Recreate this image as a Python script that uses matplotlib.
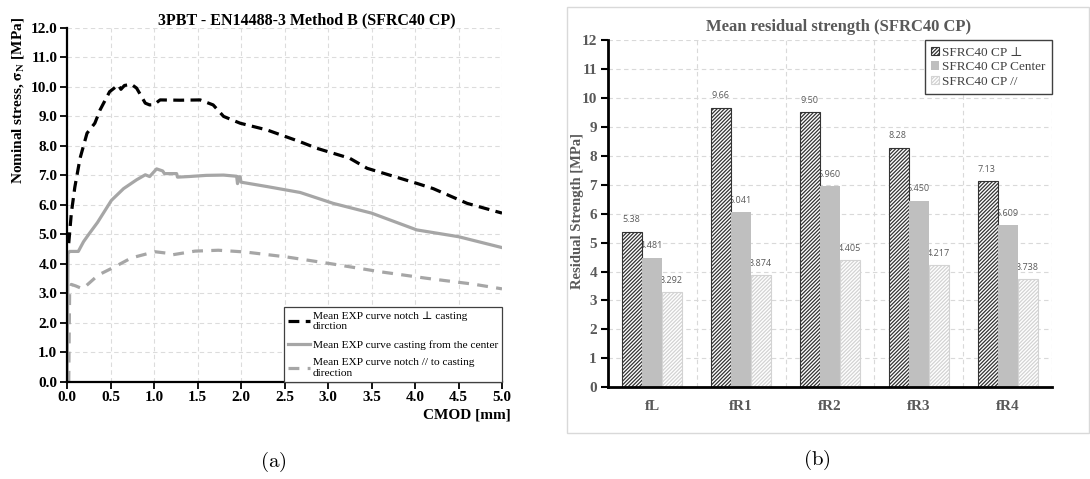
import matplotlib
matplotlib.use("Agg")
import matplotlib.pyplot as plt
import numpy as np
from matplotlib.patches import Rectangle

# ---- (a) 3PBT stress-CMOD curves ----
perp_cmod = [0.02, 0.05, 0.09, 0.15, 0.23, 0.32, 0.38, 0.49, 0.59, 0.62, 0.66, 0.74,
             0.80, 0.90, 0.95, 1.00, 1.07, 1.30, 1.53, 1.68, 1.80, 1.99, 2.30, 2.68,
             2.87, 3.25, 3.45, 4.02, 4.21, 4.60, 5.00]
perp_stress = [4.70, 5.72, 6.60, 7.58, 8.43, 8.77, 9.22, 9.84, 10.07, 9.92, 10.05, 10.09,
               9.96, 9.45, 9.39, 9.40, 9.56, 9.55, 9.56, 9.39, 9.00, 8.77, 8.54, 8.14,
               7.92, 7.58, 7.24, 6.73, 6.55, 6.05, 5.72]

center_cmod = [0.0, 0.012, 0.03, 0.13, 0.19, 0.25, 0.35, 0.51, 0.65, 0.80, 0.90, 0.95,
               1.03, 1.10, 1.12, 1.26, 1.27, 1.40, 1.60, 1.80, 1.95, 1.96, 1.97, 1.99,
               2.00, 2.30, 2.68, 3.06, 3.50, 4.02, 4.50, 5.00]
center_stress = [0.0, 4.35, 4.42, 4.42, 4.75, 5.00, 5.40, 6.15, 6.55, 6.85, 7.02, 6.96,
                 7.22, 7.15, 7.06, 7.06, 6.94, 6.96, 7.00, 7.01, 6.97, 6.72, 6.95, 6.95,
                 6.77, 6.62, 6.42, 6.05, 5.72, 5.15, 4.92, 4.55]

par_cmod = [0.02, 0.03, 0.05, 0.10, 0.18, 0.36, 0.55, 0.74, 1.01, 1.15, 1.20, 1.47,
            1.74, 2.05, 2.53, 3.06, 3.60, 4.13, 4.67, 5.00]
par_stress = [0.0, 3.00, 3.30, 3.25, 3.15, 3.62, 3.90, 4.20, 4.41, 4.36, 4.30, 4.43,
              4.46, 4.40, 4.23, 3.99, 3.73, 3.51, 3.31, 3.15]

curve_labels = ["Mean EXP curve notch \u22a5 casting\ndirction",
                "Mean EXP curve casting from the center",
                "Mean EXP curve notch // to casting\ndirection"]

# ---- (b) mean residual strengths ----
categories = ["fL", "fR1", "fR2", "fR3", "fR4"]
perp_vals = [5.38, 9.66, 9.50, 8.28, 7.13]
center_vals = [4.481, 6.041, 6.960, 6.450, 5.609]
par_vals = [3.292, 3.874, 4.405, 4.217, 3.738]
perp_text = ["5.38", "9.66", "9.50", "8.28", "7.13"]
center_text = ["4.481", "6.041", "6.960", "6.450", "5.609"]
par_text = ["3.292", "3.874", "4.405", "4.217", "3.738"]
series_names = ["SFRC40 CP \u22a5", "SFRC40 CP Center", "SFRC40 CP //"]

SERIF = ["Liberation Serif", "DejaVu Serif"]
plt.rcParams["font.family"] = SERIF
plt.rcParams["mathtext.fontset"] = "stix"
plt.rcParams["hatch.linewidth"] = 0.9

W, H = 1090, 479
fig = plt.figure(figsize=(W / 100, H / 100), dpi=100)


def fx(px):
    return px / W


def fy(py):
    return 1 - py / H


# ================= left panel =================
ax1 = fig.add_axes([fx(67), fy(381.7), fx(502) - fx(67), fy(28) - fy(381.7)])
ax1.plot(perp_cmod, perp_stress, color="black", lw=2.3,
         linestyle=(0, (3.4, 2.0)), label=curve_labels[0], zorder=3)
ax1.plot(center_cmod, center_stress, color="#a6a6a6", lw=2.3,
         label=curve_labels[1], zorder=3)
ax1.plot(par_cmod, par_stress, color="#a6a6a6", lw=2.3,
         linestyle=(0, (3.4, 2.6)), label=curve_labels[2], zorder=3)

ax1.set_xlim(0, 5)
ax1.set_ylim(0, 12)
ax1.set_xticks(np.arange(0, 5.01, 0.5))
ax1.set_yticks(np.arange(0, 12.01, 1))
ax1.set_xticklabels([f"{v:.1f}" for v in np.arange(0, 5.01, 0.5)])
ax1.set_yticklabels([f"{v:.1f}" for v in np.arange(0, 12.01, 1)])
for lab in ax1.get_xticklabels() + ax1.get_yticklabels():
    lab.set_fontweight("bold")
    lab.set_fontsize(11)
ax1.tick_params(direction="out", length=5, width=1.3, colors="black", pad=2)
ax1.grid(True, color="#dcdcdc", linestyle=(0, (4, 3)), lw=0.8, zorder=0)
ax1.set_axisbelow(True)
for s in ["top", "right"]:
    ax1.spines[s].set_visible(False)
for s in ["left", "bottom"]:
    ax1.spines[s].set_linewidth(1.6)
    ax1.spines[s].set_color("black")
    ax1.spines[s].set_zorder(4)

leg1 = ax1.legend(loc="lower right", borderaxespad=0, fancybox=False,
                  framealpha=1, edgecolor="#404040", fontsize=8.2,
                  handlelength=2.0, handletextpad=0.2, labelspacing=0.75,
                  borderpad=0.35)
leg1.get_frame().set_linewidth(0.9)

fig.text(fx(307), fy(20), "3PBT - EN14488-3 Method B (SFRC40 CP)",
         fontsize=11.5, fontweight="bold", ha="center", va="center")
fig.text(fx(18), fy(100), r"Nominal stress, $\mathbf{\sigma_N}$ [MPa]",
         fontsize=11, fontweight="bold", rotation=90, ha="center", va="center")
fig.text(fx(511), fy(415), "CMOD [mm]", fontsize=11, fontweight="bold",
         ha="right", va="center")
fig.text(fx(273), fy(462), r"$\mathrm{(a)}$", fontsize=15, ha="center",
         va="center", math_fontfamily="cm")

# ================= right panel =================
fig.patches.append(Rectangle((fx(567), fy(433)), fx(1089) - fx(567),
                             fy(7) - fy(433), transform=fig.transFigure,
                             fill=False, edgecolor="#d9d9d9", lw=1.0))

ax2 = fig.add_axes([fx(608), fy(387.3), fx(1052) - fx(608), fy(40) - fy(387.3)])
x = np.arange(len(categories))
bw = 0.225
styles = [
    dict(facecolor="white", edgecolor="#333333", hatch="/////////", lw=0.8),
    dict(facecolor="#bfbfbf", edgecolor="none", lw=0),
    dict(facecolor="white", edgecolor="#d3d3d3", hatch="/////////", lw=0.8),
]
values = [perp_vals, center_vals, par_vals]
texts = [perp_text, center_text, par_text]
for i, (vals, txt, st) in enumerate(zip(values, texts, styles)):
    pos = x + (i - 1) * bw
    ax2.bar(pos, vals, width=bw, label=series_names[i], zorder=3, **st)
    for p, v, t in zip(pos, vals, txt):
        ax2.text(p - 0.01, v + 0.25, t, ha="center", va="bottom",
                 fontsize=6.5, color="#595959", family="Open Sans", zorder=2)

ax2.set_xlim(-0.5, 4.5)
ax2.set_ylim(0, 12)
ax2.set_yticks(np.arange(0, 13, 1))
ax2.set_xticks(x)
ax2.set_xticklabels(categories)
ax2.set_xticks(np.arange(0.5, 4.6, 1), minor=True)
for lab in ax2.get_yticklabels():
    lab.set_fontweight("bold")
    lab.set_fontsize(11)
    lab.set_color("#595959")
for lab in ax2.get_xticklabels():
    lab.set_fontweight("bold")
    lab.set_fontsize(11)
    lab.set_color("#595959")
ax2.tick_params(axis="y", direction="out", length=5, width=1.5, colors="black",
                labelcolor="#595959", pad=3)
ax2.tick_params(axis="x", which="major", length=0, pad=9)
ax2.tick_params(axis="x", which="minor", length=0)
ax2.yaxis.grid(True, color="#d9d9d9", linestyle=(0, (4, 3)), lw=0.8)
ax2.xaxis.grid(True, which="minor", color="#d9d9d9", linestyle=(0, (4, 3)), lw=0.8)
ax2.set_axisbelow(True)
for s in ["top", "right"]:
    ax2.spines[s].set_visible(False)
for s in ["left", "bottom"]:
    ax2.spines[s].set_linewidth(2.0)
    ax2.spines[s].set_color("black")
    ax2.spines[s].set_zorder(4)

leg2 = ax2.legend(loc="upper right", borderaxespad=0, fancybox=False,
                  framealpha=1, edgecolor="#404040", fontsize=9.5,
                  handlelength=0.6, handleheight=0.6, handletextpad=0.2,
                  labelspacing=0.2, borderpad=0.5)
leg2.get_frame().set_linewidth(1.0)
for t in leg2.get_texts():
    t.set_color("#404040")

fig.text(fx(839), fy(27), "Mean residual strength (SFRC40 CP)", fontsize=12,
         fontweight="bold", color="#595959", ha="center", va="center")
fig.text(fx(578), fy(211), "Residual Strength [MPa]", fontsize=10.5,
         fontweight="bold", color="#595959", rotation=90, ha="center", va="center")
fig.text(fx(817), fy(460), r"$\mathrm{(b)}$", fontsize=15, ha="center",
         va="center", math_fontfamily="cm")

fig.savefig("out.png", dpi=100, facecolor="white")
